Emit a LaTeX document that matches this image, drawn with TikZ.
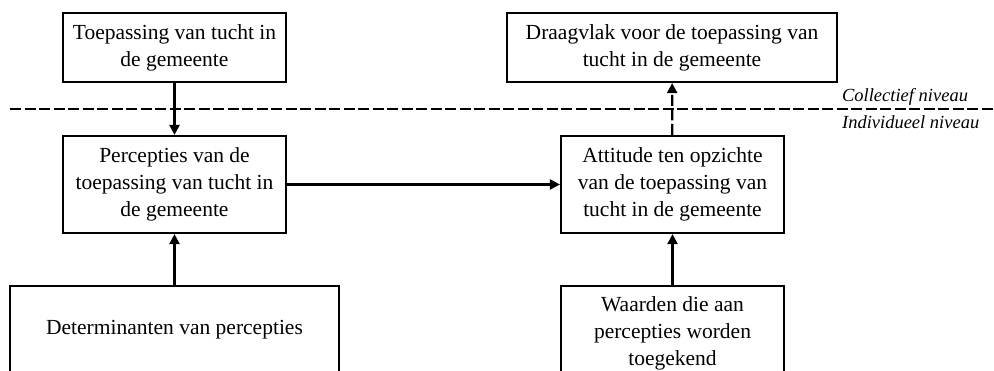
\documentclass[tikz,border=0pt]{standalone}
\usepackage{fontspec}
\setmainfont{Liberation Serif}
\usetikzlibrary{arrows.meta}

\begin{document}
\begin{tikzpicture}[x=1pt, y=-1pt, line width=2.2pt,
    every node/.style={font=\fontsize{21.5}{27}\selectfont},
    box/.style={draw, rectangle, align=center, inner sep=0pt},
    level/.style={font=\fontsize{18.5}{22}\selectfont\itshape, anchor=base west, inner sep=0pt},
    pijl/.style={-{Triangle[length=10pt, width=10pt]}},
    streep/.style={dash pattern=on 11pt off 3.5pt}]
    \useasboundingbox (0,0) rectangle (994,371);

    % Collectief niveau
    \node[box, minimum width=223pt, minimum height=69pt] (toep) at (174.5, 47.5) {Toepassing van tucht in\\de gemeente};
    \node[box, minimum width=330pt, minimum height=69pt] (draag) at (672, 47.5) {Draagvlak voor de toepassing van\\tucht in de gemeente};

    % Scheidingslijn
    \coordinate (sepL) at (10, 109);
    \coordinate (sepR) at (994, 109);
    \draw[streep, line width=2.8pt] (sepL) -- (sepR);
    \node[level] (lblcol) at (841, 102) {Collectief niveau};
    \node[level] (lblind) at (841, 129) {Individueel niveau};

    % Individueel niveau
    \node[box, minimum width=223pt, minimum height=97pt] (perc) at (174.5, 184.5) {Percepties van de\\toepassing van tucht in\\de gemeente};
    \node[box, minimum width=223pt, minimum height=97pt] (att) at (672.5, 184.5) {Attitude ten opzichte\\van de toepassing van\\tucht in de gemeente};
    \node[box, minimum width=329pt, minimum height=88pt] (det) at (174.5, 330) {Determinanten van percepties};
    \node[box, minimum width=223pt, minimum height=94pt] (waard) at (672.5, 333) {Waarden die aan\\percepties worden\\toegekend};

    % Pijlen
    \draw[pijl] (toep) -- (perc);
    \draw[pijl] (det) -- (perc);
    \draw[pijl] (perc) -- (att);
    \draw[pijl] (waard) -- (att);
    \draw[pijl, streep] (att) -- (draag);
\end{tikzpicture}
\end{document}
